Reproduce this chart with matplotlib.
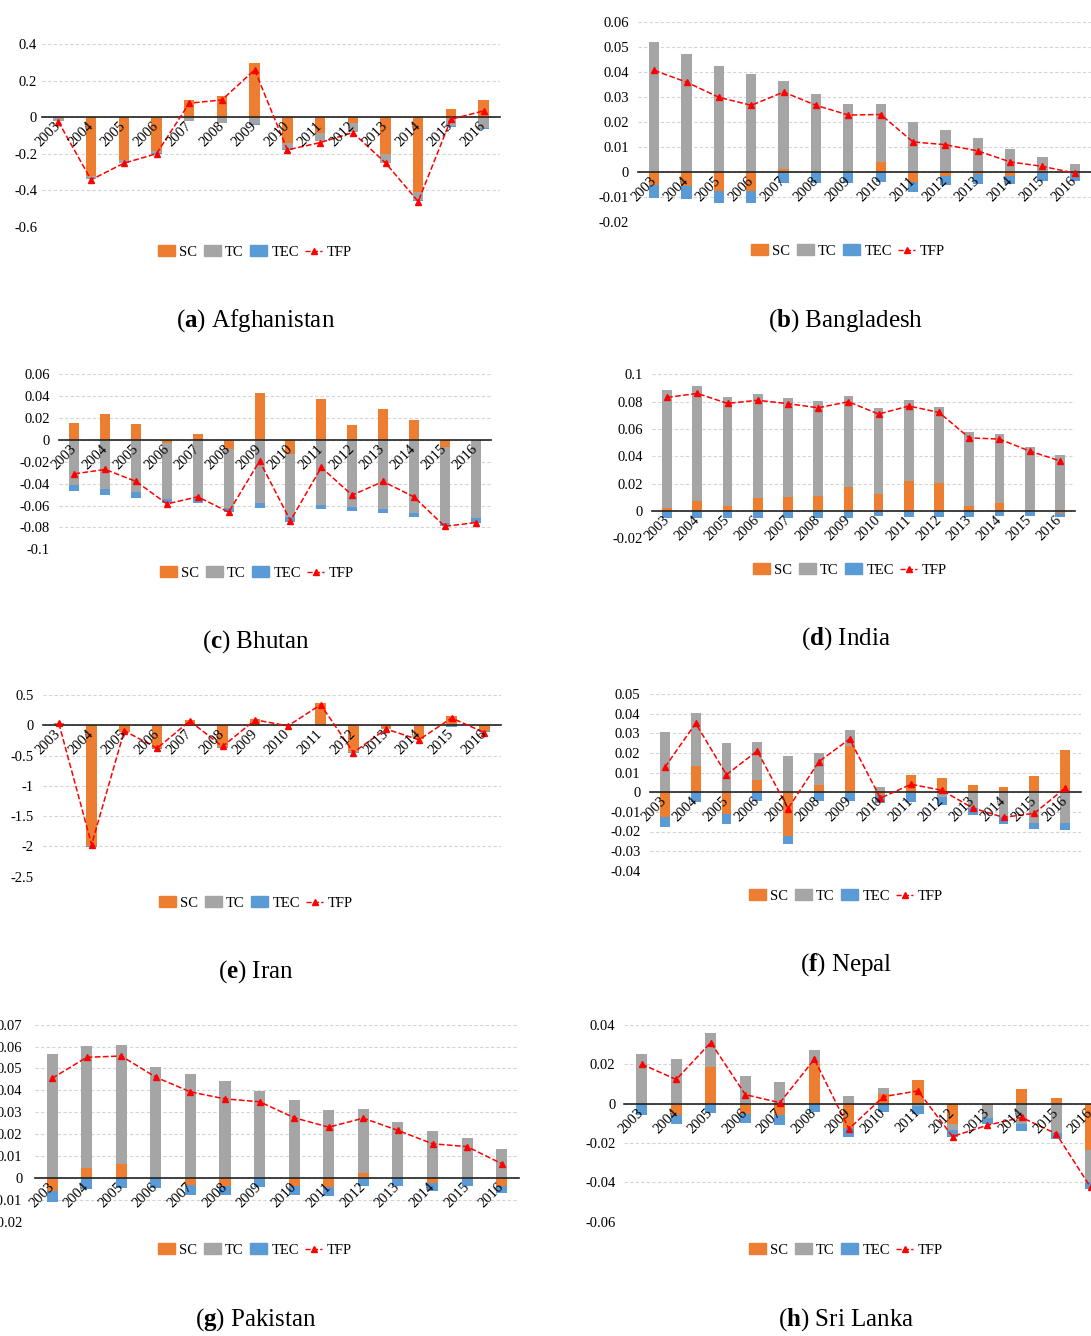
import matplotlib
matplotlib.use('Agg')
import matplotlib.pyplot as plt
from matplotlib.patches import Patch
from matplotlib.lines import Line2D
from matplotlib.ticker import MultipleLocator, FuncFormatter
import numpy as np

plt.rcParams['font.family'] = ['Liberation Serif', 'DejaVu Serif']
plt.rcParams['mathtext.fontset'] = 'custom'
plt.rcParams['mathtext.rm'] = 'Liberation Serif'
plt.rcParams['mathtext.bf'] = 'Liberation Serif:bold'

years = ['2003', '2004', '2005', '2006', '2007', '2008', '2009',
         '2010', '2011', '2012', '2013', '2014', '2015', '2016']

# ---- data ----
sc_afg = [-0.005, -0.32, -0.234, -0.183, 0.095, 0.119, 0.296, -0.139, -0.084, -0.029, -0.20, -0.41, 0.044, 0.097]
tc_afg = [-0.015, -0.017, -0.015, -0.015, -0.018, -0.029, -0.038, -0.035, -0.046, -0.050, -0.050, -0.046, -0.050, -0.060]
tec_afg = [-0.003, -0.003, -0.003, -0.005, -0.002, -0.002, -0.002, -0.004, -0.002, -0.002, -0.002, -0.003, -0.002, -0.002]
tfp_afg = [-0.024, -0.343, -0.252, -0.200, 0.077, 0.095, 0.260, -0.179, -0.139, -0.084, -0.250, -0.462, -0.011, 0.035]

sc_bgd = [-0.0053, -0.0058, -0.0077, -0.0077, 0.0012, 0.0, 0.0, 0.0040, -0.0040, -0.0015, -0.0010, -0.0015, -0.0003, -0.0003]
tc_bgd = [0.0519, 0.0473, 0.0426, 0.0394, 0.0354, 0.0311, 0.0273, 0.0233, 0.0201, 0.0166, 0.0136, 0.0093, 0.0058, 0.0031]
tec_bgd = [-0.0053, -0.0051, -0.0048, -0.0048, -0.0044, -0.0045, -0.0044, -0.0040, -0.0042, -0.0038, -0.0039, -0.0034, -0.0034, -0.0032]
tfp_bgd = [0.0407, 0.0360, 0.0299, 0.0267, 0.0320, 0.0267, 0.0228, 0.0230, 0.0120, 0.0109, 0.0084, 0.0040, 0.0022, -0.0005]

sc_btn = [0.0159, 0.0236, 0.0144, -0.0028, 0.0052, -0.0086, 0.0426, -0.0129, 0.0377, 0.0141, 0.0285, 0.0184, -0.0064, -0.0005]
tc_btn = [-0.0413, -0.0453, -0.0480, -0.0508, -0.0542, -0.0533, -0.0573, -0.0572, -0.0591, -0.0610, -0.0628, -0.0667, -0.0692, -0.0710]
tec_btn = [-0.0052, -0.0052, -0.0050, -0.0040, -0.0034, -0.0043, -0.0046, -0.0046, -0.0040, -0.0040, -0.0040, -0.0037, -0.0030, -0.0040]
tfp_btn = [-0.031, -0.027, -0.038, -0.0585, -0.052, -0.066, -0.0193, -0.0738, -0.0251, -0.0505, -0.038, -0.052, -0.079, -0.0756]

sc_ind = [0.0020, 0.0071, 0.0035, 0.0093, 0.0103, 0.0110, 0.0176, 0.0125, 0.0220, 0.0203, 0.0039, 0.0056, 0.0003, -0.0015]
tc_ind = [0.0865, 0.0843, 0.0799, 0.0760, 0.0726, 0.0692, 0.0667, 0.0626, 0.0589, 0.0555, 0.0536, 0.0504, 0.0464, 0.0411]
tec_ind = [-0.0054, -0.0054, -0.0054, -0.0050, -0.0050, -0.0050, -0.0050, -0.0040, -0.0042, -0.0042, -0.0042, -0.0038, -0.0038, -0.0030]
tfp_ind = [0.0831, 0.0860, 0.0787, 0.0810, 0.0785, 0.0755, 0.0799, 0.0709, 0.0768, 0.0721, 0.0535, 0.0526, 0.0438, 0.0367]

sc_irn = [0.03, -1.99, -0.11, -0.37, 0.08, -0.36, 0.10, -0.005, 0.37, -0.43, -0.05, -0.22, 0.15, -0.09]
tc_irn = [0.0, -0.005, -0.004, -0.004, -0.004, -0.004, -0.004, -0.004, -0.004, -0.004, -0.004, -0.004, -0.004, -0.004]
tec_irn = [0.0, -0.01, -0.005, -0.01, 0.0, -0.005, -0.01, -0.005, -0.01, -0.02, -0.005, -0.01, -0.02, -0.02]
tfp_irn = [0.03, -1.97, -0.09, -0.38, 0.07, -0.35, 0.09, -0.01, 0.34, -0.45, -0.06, -0.24, 0.12, -0.12]

sc_npl = [-0.0128, 0.0134, -0.0110, 0.0061, -0.0221, 0.0036, 0.0235, -0.0015, 0.0090, 0.0075, 0.0036, 0.0029, 0.0085, 0.0214]
tc_npl = [0.0310, 0.0272, 0.0252, 0.0198, 0.0184, 0.0163, 0.0083, 0.0029, -0.0005, -0.0022, -0.0082, -0.0124, -0.0155, -0.0158]
tec_npl = [-0.0051, -0.0048, -0.0050, -0.0044, -0.0044, -0.0044, -0.0044, -0.0040, -0.0043, -0.0043, -0.0034, -0.0036, -0.0032, -0.0032]
tfp_npl = [0.0128, 0.0352, 0.0090, 0.0211, -0.0083, 0.0156, 0.0272, -0.0030, 0.0041, 0.0010, -0.0080, -0.0128, -0.0107, 0.0022]

sc_pak = [-0.0058, 0.0046, 0.0065, 0.0, -0.0033, -0.0035, 0.0, -0.0035, -0.0040, 0.0023, 0.0005, -0.0021, 0.0003, -0.0035]
tc_pak = [0.0566, 0.0558, 0.0543, 0.0508, 0.0475, 0.0442, 0.0395, 0.0355, 0.0311, 0.0290, 0.0251, 0.0214, 0.0178, 0.0134]
tec_pak = [-0.0052, -0.0050, -0.0047, -0.0047, -0.0046, -0.0044, -0.0042, -0.0041, -0.0041, -0.0038, -0.0038, -0.0037, -0.0035, -0.0032]
tfp_pak = [0.0455, 0.0551, 0.0557, 0.0460, 0.0393, 0.0361, 0.0348, 0.0275, 0.0232, 0.0273, 0.0217, 0.0156, 0.0143, 0.0065]

sc_lka = [0.0, -0.0056, 0.0187, -0.0051, -0.0060, 0.0204, -0.0123, 0.0051, 0.0119, -0.0102, -0.0005, 0.0073, 0.0029, -0.0235]
tc_lka = [0.0255, 0.0225, 0.0170, 0.0141, 0.0109, 0.0068, 0.0041, 0.0027, -0.0012, -0.0031, -0.0066, -0.0104, -0.0148, -0.0165]
tec_lka = [-0.0058, -0.0049, -0.0048, -0.0046, -0.0046, -0.0044, -0.0048, -0.0043, -0.0043, -0.0037, -0.0031, -0.0036, -0.0034, -0.0034]
tfp_lka = [0.0201, 0.0123, 0.0311, 0.0046, 0.0005, 0.0226, -0.0128, 0.0036, 0.0065, -0.0167, -0.0110, -0.0070, -0.0153, -0.0426]

C_SC = '#ED7D31'
C_TC = '#A5A5A5'
C_TEC = '#5B9BD5'
C_TFP = '#FF0000'

W, H = 1091, 1336
fig = plt.figure(figsize=(W / 100, H / 100), dpi=100)


def fmt(v, pos=None):
    r = round(v, 6)
    if abs(r) < 1e-9:
        return '0'
    return f'{r:g}'


def draw_panel(rect, sc, tc, tec, tfp, ylim, step, legend_xy, caption_xy, letter, name, pad=6.5):
    left, right, top, bottom = rect
    ax = fig.add_axes([left / W, 1 - bottom / H, (right - left) / W, (bottom - top) / H])
    x = np.arange(len(years))

    # Excel-style stacking: positives upward, negatives downward
    pos = np.zeros(len(years))
    neg = np.zeros(len(years))
    for vals, color in ((sc, C_SC), (tc, C_TC), (tec, C_TEC)):
        v = np.array(vals)
        base = np.where(v >= 0, pos, neg)
        ax.bar(x, v, width=0.32, bottom=base, color=color, zorder=2)
        pos = pos + np.clip(v, 0, None)
        neg = neg + np.clip(v, None, 0)
    ax.plot(x, tfp, color=C_TFP, ls='--', lw=1.1, marker='^', ms=4.5, zorder=4)

    ax.set_xlim(-0.5, len(years) - 0.5)
    ax.set_ylim(*ylim)
    ax.yaxis.set_major_locator(MultipleLocator(step))
    ax.yaxis.set_major_formatter(FuncFormatter(fmt))
    ax.yaxis.grid(True, color='#D4D4D4', ls=(0, (3, 2)), lw=0.8)
    ax.set_axisbelow(True)
    ax.xaxis.set_zorder(5)   # year labels sit on top of the bars

    for s in ('top', 'right', 'left'):
        ax.spines[s].set_visible(False)
    ax.spines['bottom'].set_position(('data', 0))
    ax.spines['bottom'].set_color('#222222')
    ax.spines['bottom'].set_linewidth(1.2)
    ax.spines['bottom'].set_zorder(3)

    ax.set_xticks(x)
    ax.set_xticklabels(years, rotation=45, ha='right', va='center', rotation_mode='anchor')
    ax.tick_params(axis='x', length=0, pad=5, labelsize=10.5)
    ax.tick_params(axis='y', length=0, pad=pad, labelsize=10.5)

    handles = [Patch(color=C_SC), Patch(color=C_TC), Patch(color=C_TEC),
               Line2D([], [], color=C_TFP, ls='--', lw=1.0, marker='^', ms=4)]
    ax.legend(handles, ['SC', 'TC', 'TEC', 'TFP'], loc='center', ncol=4,
              bbox_to_anchor=(legend_xy[0] / W, 1 - legend_xy[1] / H),
              bbox_transform=fig.transFigure, frameon=False, fontsize=10.5,
              handlelength=1.15, handleheight=0.75, handletextpad=0.3,
              columnspacing=0.45, borderpad=0)

    fig.text(caption_xy[0] / W, 1 - caption_xy[1] / H,
             r'($\mathbf{' + letter + '}$) ' + name,
             ha='center', va='center', fontsize=18)
    return ax


draw_panel((42, 500, 44.3, 226.7), sc_afg, tc_afg, tec_afg, tfp_afg, (-0.6, 0.4), 0.2,
           (255, 252), (256, 321), 'a', 'Afghanistan', pad=3.5)
draw_panel((638, 1091, 22.3, 221.7), sc_bgd, tc_bgd, tec_bgd, tfp_bgd, (-0.02, 0.06), 0.01,
           (848, 251), (846, 321), 'b', 'Bangladesh')
draw_panel((59, 491, 374.3, 549.3), sc_btn, tc_btn, tec_btn, tfp_btn, (-0.1, 0.06), 0.02,
           (257, 573), (256, 642), 'c', 'Bhutan')
draw_panel((652, 1075, 374.3, 538.3), sc_ind, tc_ind, tec_ind, tfp_ind, (-0.02, 0.1), 0.02,
           (850, 570), (846, 639), 'd', 'India')
draw_panel((42.5, 500.7, 695, 876.7), sc_irn, tc_irn, tec_irn, tfp_irn, (-2.5, 0.5), 0.5,
           (256, 903), (256, 972), 'e', 'Iran')
draw_panel((649.5, 1080.5, 694.3, 870.7), sc_npl, tc_npl, tec_npl, tfp_npl, (-0.04, 0.05), 0.01,
           (846, 896), (846, 965), 'f', 'Nepal')
draw_panel((34.8, 519, 1024.7, 1221.7), sc_pak, tc_pak, tec_pak, tfp_pak, (-0.02, 0.07), 0.01,
           (255, 1250), (256, 1320), 'g', 'Pakistan', pad=9)
draw_panel((624.4, 1108, 1025, 1221.7), sc_lka, tc_lka, tec_lka, tfp_lka, (-0.06, 0.04), 0.02,
           (846, 1250), (846, 1320), 'h', 'Sri Lanka')

fig.savefig('out.png', dpi=100, facecolor='white')
